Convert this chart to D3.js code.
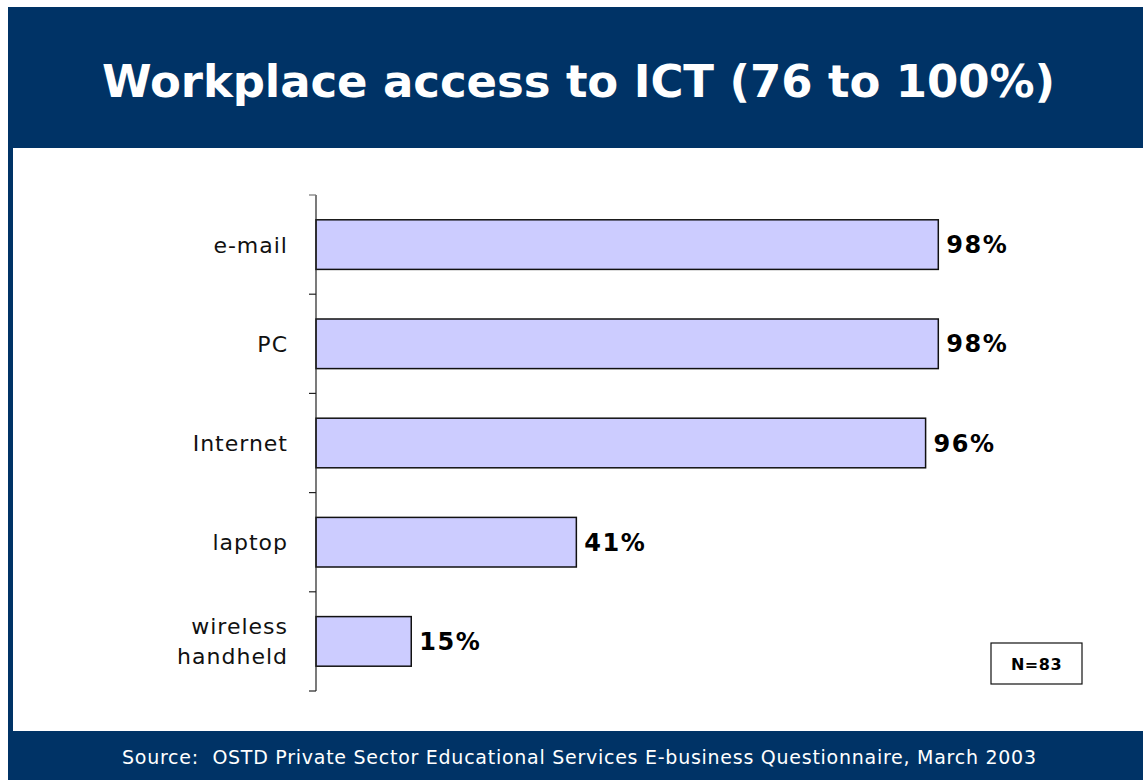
<!DOCTYPE html>
<html>
<head>
<meta charset="utf-8">
<script src="https://cdn.jsdelivr.net/npm/d3@7"></script>
<style>
  html, body { margin: 0; padding: 0; background: #ffffff; }
  svg { display: block; }
</style>
</head>
<body>
<svg id="chart" width="1143" height="780"></svg>
<script>
// Chart data
const categories = ["e-mail", "PC", "Internet", "laptop", "wireless handheld"];
const shares = [98, 98, 96, 41, 15];
const titleText = "Workplace access to ICT (76 to 100%)";
const sourceText = "Source:  OSTD Private Sector Educational Services E-business Questionnaire, March 2003";
const sampleNote = "N=83";

const W = 1143, H = 780;
const navy = "#003366";
const font = "'DejaVu Sans', Verdana, sans-serif";

const svg = d3.select("#chart");

// Frame: navy header, left edge and footer around a white panel
svg.append("rect").attr("x", 8).attr("y", 7).attr("width", W - 8).attr("height", H - 7).attr("fill", navy);
svg.append("rect").attr("x", 13).attr("y", 148).attr("width", W - 13).attr("height", 583).attr("fill", "#ffffff");

svg.append("text")
  .attr("x", 102).attr("y", 97)
  .attr("fill", "#ffffff")
  .attr("font-family", font)
  .attr("font-weight", "bold")
  .attr("font-size", 45)
  .attr("textLength", 953)
  .attr("lengthAdjust", "spacing")
  .text(titleText);

svg.append("text")
  .attr("x", 122).attr("y", 764)
  .attr("fill", "#ffffff")
  .attr("font-family", font)
  .attr("font-size", 19)
  .attr("textLength", 914)
  .attr("lengthAdjust", "spacing")
  .style("white-space", "pre")
  .text(sourceText);

// Plot area
const x0 = 316, yTop = 195, yBottom = 691;
const x = d3.scaleLinear().domain([0, 100]).range([x0, x0 + 635]);
const y = d3.scaleBand().domain(categories).range([yTop, yBottom]).paddingInner(0.5).paddingOuter(0.25);
const yCell = d3.scaleBand().domain(categories).range([yTop, yBottom]).padding(0);

const g = svg.append("g");

// Bars
g.selectAll("rect.bar")
  .data(categories)
  .join("rect")
  .attr("class", "bar")
  .attr("x", x(0))
  .attr("y", d => y(d))
  .attr("width", (d, i) => x(shares[i]) - x(0))
  .attr("height", y.bandwidth())
  .attr("fill", "#ccccff")
  .attr("stroke", "#111111")
  .attr("stroke-width", 1.5);

// Value labels
g.selectAll("text.value")
  .data(categories)
  .join("text")
  .attr("class", "value")
  .attr("x", (d, i) => x(shares[i]) + 8)
  .attr("y", d => y(d) + y.bandwidth() / 2)
  .attr("dy", "0.36em")
  .attr("font-family", font)
  .attr("font-weight", "bold")
  .attr("font-size", 24)
  .attr("letter-spacing", 1.5)
  .attr("fill", "#000000")
  .text((d, i) => shares[i] + "%");

// Category axis: vertical line with ticks at cell boundaries
const tickYs = categories.map(c => yCell(c)).concat([yBottom]);
g.append("line")
  .attr("x1", x0).attr("x2", x0)
  .attr("y1", yTop).attr("y2", yBottom)
  .attr("stroke", "#222222").attr("stroke-width", 1.2);
g.selectAll("line.tick")
  .data(tickYs)
  .join("line")
  .attr("class", "tick")
  .attr("x1", x0 - 7).attr("x2", x0)
  .attr("y1", d => d).attr("y2", d => d)
  .attr("stroke", (d, i) => i === 0 ? "#777777" : "#222222")
  .attr("stroke-width", 1.2);

// Category labels (multi-word names wrap onto two lines)
g.selectAll("text.cat")
  .data(categories)
  .join("text")
  .attr("class", "cat")
  .attr("text-anchor", "end")
  .attr("font-family", font)
  .attr("font-size", 22)
  .attr("letter-spacing", 1)
  .attr("fill", "#111111")
  .each(function(d) {
    const words = d.split(" ");
    const cy = y(d) + y.bandwidth() / 2;
    const lh = 30;
    const t = d3.select(this);
    words.forEach((w, k) => {
      t.append("tspan")
        .attr("x", 288)
        .attr("y", cy + (k - (words.length - 1) / 2) * lh)
        .attr("dy", "0.36em")
        .text(w);
    });
  });

// Sample size note
svg.append("rect")
  .attr("x", 991).attr("y", 643).attr("width", 91).attr("height", 41)
  .attr("fill", "#ffffff").attr("stroke", "#111111").attr("stroke-width", 1.2);
svg.append("text")
  .attr("x", 1036.5).attr("y", 664)
  .attr("dy", "0.36em")
  .attr("text-anchor", "middle")
  .attr("font-family", font)
  .attr("font-weight", "bold")
  .attr("font-size", 16)
  .attr("letter-spacing", 0.5)
  .text(sampleNote);
</script>
</body>
</html>
